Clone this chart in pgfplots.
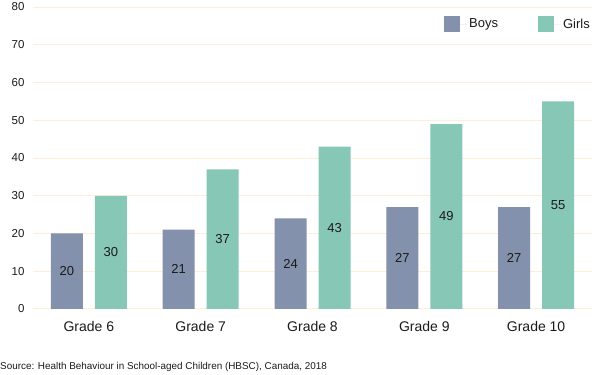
\documentclass[border=0pt]{standalone}
\usepackage{fontspec}
\setmainfont{Liberation Sans}
\usepackage{pgfplots}
\pgfplotsset{compat=1.18}
\definecolor{boys}{HTML}{8391AC}
\definecolor{girls}{HTML}{87C7B5}
\definecolor{gridc}{HTML}{FCEFD4}
\definecolor{txt}{HTML}{1A1A1A}
\begin{document}
\begin{tikzpicture}
\path[use as bounding box] (0,0) rectangle (600bp,375bp);
\begin{axis}[
  at={(33bp,66bp)}, anchor=south west,
  scale only axis, width=559bp, height=302bp,
  xmin=-0.5, xmax=4.5, ymin=0, ymax=80,
  ytick={0,10,...,80},
  xtick={0,1,2,3,4},
  xticklabels={Grade 6,Grade 7,Grade 8,Grade 9,Grade 10},
  ymajorgrids, grid style={color=gridc, line width=1bp},
  axis line style={draw=none},
  major tick length=0,
  clip=false,
  /pgf/number format/assume math mode=true,
  yticklabel style={font=\fontsize{11.5bp}{13bp}\selectfont, text=txt, xshift=-5bp},
  xticklabel style={font=\fontsize{14bp}{16bp}\selectfont, text=txt, yshift=-9bp},
  legend columns=2,
  legend style={at={(1,1)}, anchor=north east, yshift=-9bp, draw=none, fill=none,
    inner sep=0pt, font=\fontsize{13bp}{15bp}\selectfont, text=txt,
    /tikz/every even column/.append style={column sep=38bp}},
  legend image code/.code={\fill[#1] (0bp,-8bp) rectangle (16bp,8bp);\path (0bp,0bp) -- (23bp,0bp);},
  nodes near coords style={font=\fontsize{13bp}{15bp}\selectfont, text=txt, anchor=center},
]
\addplot[ybar, bar width=32bp, bar shift=-22bp, fill=boys, draw=none]
  coordinates {(0,20) (1,21) (2,24) (3,27) (4,27)};
\addlegendentry{Boys}
\addplot[ybar, bar width=32bp, bar shift=22bp, fill=girls, draw=none]
  coordinates {(0,30) (1,37) (2,43) (3,49) (4,55)};
\addlegendentry{Girls}
\addplot[ybar, bar width=32bp, bar shift=-22bp, draw=none, fill=none, forget plot,
  nodes near coords, point meta=explicit symbolic,
  every node near coord/.append style={xshift=-22bp}]
  coordinates {(0,10) [20] (1,10.5) [21] (2,12) [24] (3,13.5) [27] (4,13.5) [27]};
\addplot[ybar, bar width=32bp, bar shift=22bp, draw=none, fill=none, forget plot,
  nodes near coords, point meta=explicit symbolic,
  every node near coord/.append style={xshift=22bp}]
  coordinates {(0,15) [30] (1,18.5) [37] (2,21.5) [43] (3,24.5) [49] (4,27.5) [55]};
\end{axis}
\node[anchor=base west, inner sep=0pt, text=txt, font=\fontsize{9.9bp}{11bp}\selectfont] at (0bp,6bp)
  {Source: Health Behaviour in School-aged Children (HBSC), Canada, 2018};
\end{tikzpicture}
\end{document}
